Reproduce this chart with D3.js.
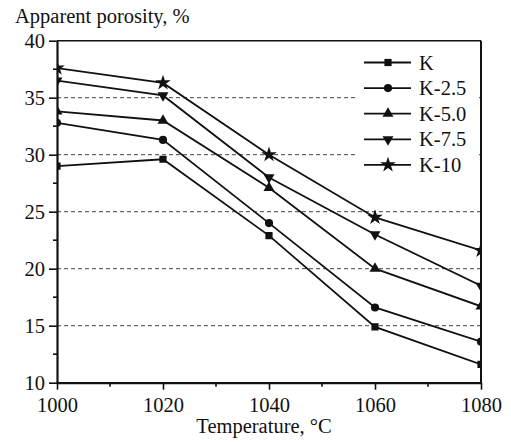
<!DOCTYPE html>
<html>
<head>
<meta charset="utf-8">
<script src="https://cdn.jsdelivr.net/npm/d3@7"></script>
<style>
  body { margin: 0; background: #fff; }
  svg text { font-family: "Liberation Serif", "Times New Roman", serif; fill: #111; }
</style>
</head>
<body>
<svg id="chart" width="511" height="442"></svg>
<script>
// temperatures (°C) and apparent porosity (%) per sample
const temps = [1000, 1020, 1040, 1060, 1080];
const seriesNames = ["K", "K-2.5", "K-5.0", "K-7.5", "K-10"];
const valK   = [29.0, 29.6, 22.9, 14.9, 11.6];
const valK25 = [32.8, 31.3, 24.0, 16.6, 13.6];
const valK50 = [33.8, 33.0, 27.1, 20.0, 16.7];
const valK75 = [36.5, 35.2, 28.0, 23.0, 18.5];
const valK10 = [37.6, 36.3, 30.0, 24.5, 21.6];
const xTicks = [1000, 1020, 1040, 1060, 1080];
const yTicks = [10, 15, 20, 25, 30, 35, 40];
const gridVals = [15, 20, 25, 30, 35];

const allVals = [valK, valK25, valK50, valK75, valK10];
const symbols = ["square", "circle", "triangle", "triangleDown", "star"];

const W = 511, H = 442;
const m = {left: 57, right: 30, top: 40.7, bottom: 59.3};
const svg = d3.select("#chart");

const x = d3.scaleLinear().domain([1000, 1080]).range([m.left, W - m.right]);
const y = d3.scaleLinear().domain([10, 40]).range([H - m.bottom, m.top]);

function symPath(name, size) {
  let t = d3.symbolSquare;
  if (name == "circle") t = d3.symbolCircle;
  if (name == "triangle" || name == "triangleDown") t = d3.symbolTriangle;
  if (name == "star") t = d3.symbolStar;
  return d3.symbol().type(t).size(size)();
}
const sizes = {square: 52, circle: 52, triangle: 52, triangleDown: 52, star: 75};

// clip to plot box
svg.append("clipPath").attr("id", "clip")
  .append("rect")
  .attr("x", x(1000)).attr("y", y(40))
  .attr("width", x(1080) - x(1000)).attr("height", y(10) - y(40));

// dashed grid
svg.append("g").selectAll("line").data(gridVals).join("line")
  .attr("x1", x(1000)).attr("x2", x(1080))
  .attr("y1", d => y(d)).attr("y2", d => y(d))
  .attr("stroke", "#444").attr("stroke-width", 1)
  .attr("stroke-dasharray", "4,3");

// legend background hides grid
const legX = 364, legY0 = 62.5, legDy = 25.6;
svg.append("rect").attr("x", 358).attr("y", 50).attr("width", 121).attr("height", 128).attr("fill", "#fff");

// series
const plot = svg.append("g").attr("clip-path", "url(#clip)");
const line = d3.line().x((d, i) => x(temps[i])).y(d => y(d));
allVals.forEach((vals, s) => {
  plot.append("path").datum(vals).attr("d", line)
    .attr("fill", "none").attr("stroke", "#111").attr("stroke-width", 1.8);
  plot.append("g").selectAll("path").data(vals).join("path")
    .attr("d", symPath(symbols[s], sizes[symbols[s]]))
    .attr("transform", (d, i) => `translate(${x(temps[i])},${y(d)})` + (symbols[s] == "triangleDown" ? " rotate(180)" : ""))
    .attr("fill", "#111");
});

// axes
const yAxis = d3.axisLeft(y).tickValues(yTicks).tickSize(8).tickPadding(4).tickSizeOuter(0);
const gy = svg.append("g").attr("transform", `translate(${m.left},0)`).call(yAxis);
const xAxis = d3.axisBottom(x).tickValues(xTicks).tickFormat(d3.format("d")).tickSize(7).tickPadding(8).tickSizeOuter(0);
const gx = svg.append("g").attr("transform", `translate(0,${H - m.bottom})`).call(xAxis);
[gx, gy].forEach(g => {
  g.attr("font-family", null).attr("font-size", null);
  g.select(".domain").attr("stroke", "#111").attr("stroke-width", 2.2);
  g.selectAll(".tick line").attr("stroke", "#111").attr("stroke-width", 1.6);
  g.selectAll(".tick text").style("font-size", "20.5px").attr("fill", "#111");
});
gy.selectAll(".tick text").attr("dy", "0.33em");

// minor ticks
svg.append("g").selectAll("line").data(d3.range(12.5, 40, 5)).join("line")
  .attr("x1", m.left - 4).attr("x2", m.left)
  .attr("y1", d => y(d)).attr("y2", d => y(d))
  .attr("stroke", "#111").attr("stroke-width", 1.6);
svg.append("g").selectAll("line").data(d3.range(1010, 1080, 20)).join("line")
  .attr("x1", d => x(d)).attr("x2", d => x(d))
  .attr("y1", y(10)).attr("y2", y(10) + 4)
  .attr("stroke", "#111").attr("stroke-width", 1.6);

// frame top/right
svg.append("line").attr("x1", x(1000)).attr("x2", x(1080)).attr("y1", y(40)).attr("y2", y(40))
  .attr("stroke", "#111").attr("stroke-width", 1.6);
svg.append("line").attr("x1", x(1080)).attr("x2", x(1080)).attr("y1", y(40)).attr("y2", y(10))
  .attr("stroke", "#111").attr("stroke-width", 2);

// legend
seriesNames.forEach((n, s) => {
  const ly = legY0 + s * legDy;
  const g = svg.append("g");
  g.append("line").attr("x1", legX).attr("x2", legX + 47).attr("y1", ly).attr("y2", ly)
    .attr("stroke", "#111").attr("stroke-width", 1.8);
  g.append("path").attr("d", symPath(symbols[s], sizes[symbols[s]]))
    .attr("transform", `translate(${legX + 24},${ly})` + (symbols[s] == "triangleDown" ? " rotate(180)" : ""))
    .attr("fill", "#111");
  g.append("text").attr("x", 419).attr("y", ly).attr("dy", "0.35em")
    .style("font-size", "20.5px").text(n);
});

// titles
svg.append("text").attr("x", 15).attr("y", 23).style("font-size", "20.5px").text("Apparent porosity, %");
svg.append("text").attr("x", 264).attr("y", 433).attr("text-anchor", "middle")
  .style("font-size", "20.5px").text("Temperature, °C");
</script>
</body>
</html>
